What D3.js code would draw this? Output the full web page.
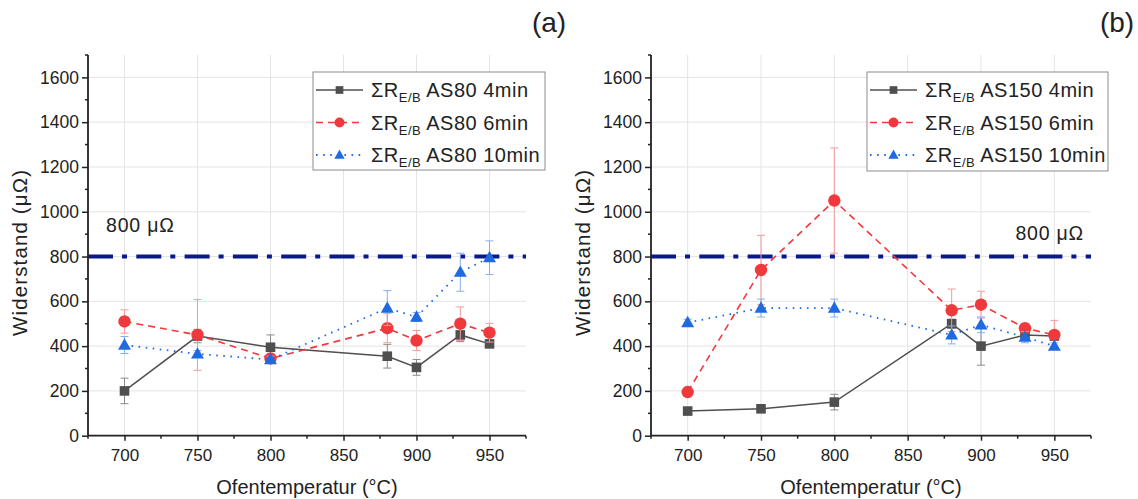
<!DOCTYPE html>
<html>
<head>
<meta charset="utf-8">
<script src="https://cdn.jsdelivr.net/npm/d3@7/dist/d3.min.js"></script>
<style>
  html, body { margin: 0; padding: 0; background: #fff; }
  svg { display: block; font-family: "Liberation Sans", Arial, sans-serif; }
</style>
</head>
<body>
<svg id="chart" width="1138" height="499"></svg>
<script>
// Furnace temperatures (°C)
const temps = [700, 750, 800, 880, 900, 930, 950];

// Panel (a): AS80 – summed resistance R_E/B (µΩ) and error bars
const as80_4 = [200, 445, 395, 355, 305, 450, 410];
const as80_4Err = [57, 30, 55, 53, 35, 30, 12];
const as80_6 = [510, 450, 345, 480, 425, 500, 460];
const as80_6Err = [52, 158, 15, 65, 45, 75, 42];
const as80_10 = [405, 365, 340, 570, 530, 730, 795];
const as80_10Err = [38, 15, 15, 78, 20, 85, 75];

// Panel (b): AS150
const as150_4 = [110, 120, 150, 500, 400, 450, 445];
const as150_4Err = [10, 12, 35, 20, 85, 20, 15];
const as150_6 = [195, 740, 1050, 560, 585, 480, 450];
const as150_6Err = [15, 155, 235, 95, 60, 20, 65];
const as150_10 = [505, 570, 570, 450, 495, 440, 400];
const as150_10Err = [15, 40, 40, 40, 35, 25, 15];

// Axis ticks and limits
const xTicks = [700, 750, 800, 850, 900, 950];
const xMinorTicks = [675, 725, 775, 825, 875, 925, 975];
const yTicks = [0, 200, 400, 600, 800, 1000, 1200, 1400, 1600];
const yMinorTicks = [100, 300, 500, 700, 900, 1100, 1300, 1500, 1700];
const xDomain = [675, 975];
const yDomain = [0, 1700];
const limitValue = 800;
const limitLabel = "800 \u03BC\u03A9";

const seriesStyle = [
  { color: "#4f4f4f", err: "#8a8a8a", dash: null, marker: "square", width: 1.5 },
  { color: "#f0393c", err: "#f39a9a", dash: "7,5", marker: "circle", width: 1.6 },
  { color: "#1f6ae0", err: "#86aef0", dash: "1.6,5.5", marker: "triangle", width: 1.8 }
];

const svg = d3.select("#chart");

function drawPanel(cfg) {
  const g = svg.append("g");
  const x = d3.scaleLinear().domain(xDomain).range([cfg.left, cfg.right]);
  const y = d3.scaleLinear().domain(yDomain).range([cfg.bottom, cfg.top]);

  // grid
  g.append("g").selectAll("line").data(xTicks).join("line")
    .attr("x1", d => x(d)).attr("x2", d => x(d))
    .attr("y1", cfg.top).attr("y2", cfg.bottom)
    .attr("stroke", "#e4e4e4").attr("stroke-width", 1);
  g.append("g").selectAll("line").data(yTicks.filter(d => d > 0)).join("line")
    .attr("x1", cfg.left).attr("x2", cfg.right)
    .attr("y1", d => y(d)).attr("y2", d => y(d))
    .attr("stroke", "#e4e4e4").attr("stroke-width", 1);

  // 800 µΩ limit line
  g.append("line")
    .attr("x1", cfg.left).attr("x2", cfg.right)
    .attr("y1", y(limitValue)).attr("y2", y(limitValue))
    .attr("stroke", "#0a1a8c").attr("stroke-width", 4)
    .attr("stroke-dasharray", "25,9,5,9.3");
  g.append("text")
    .attr("x", cfg.limitX).attr("y", cfg.limitY)
    .attr("text-anchor", cfg.limitAnchor)
    .attr("font-size", 19.5).attr("letter-spacing", 0.8).attr("fill", "#222")
    .text(limitLabel);

  // series
  cfg.series.forEach((s, i) => {
    const st = seriesStyle[i];
    const pts = temps.map((t, k) => ({ t, v: s.values[k], e: s.errors[k] }));
    // error bars
    const eb = g.append("g").attr("stroke", st.err).attr("stroke-width", 1);
    pts.forEach(p => {
      eb.append("line").attr("x1", x(p.t)).attr("x2", x(p.t))
        .attr("y1", y(p.v - p.e)).attr("y2", y(p.v + p.e));
      [p.v - p.e, p.v + p.e].forEach(v => {
        eb.append("line").attr("x1", x(p.t) - 4).attr("x2", x(p.t) + 4)
          .attr("y1", y(v)).attr("y2", y(v));
      });
    });
    // line
    g.append("path").datum(pts)
      .attr("fill", "none").attr("stroke", st.color).attr("stroke-width", st.width)
      .attr("stroke-dasharray", st.dash)
      .attr("d", d3.line().x(p => x(p.t)).y(p => y(p.v)));
    // markers
    g.append("g").selectAll("path").data(pts).join("path")
      .attr("transform", p => `translate(${x(p.t)},${y(p.v)})`)
      .attr("d", markerPath(st.marker))
      .attr("fill", st.color);
  });

  // axes
  const xAxis = d3.axisBottom(x).tickValues(xTicks).tickSize(5).tickPadding(8)
    .tickFormat(d3.format("d"));
  const gx = g.append("g").attr("transform", `translate(0,${cfg.bottom})`).call(xAxis);
  gx.append("g").selectAll("line").data(xMinorTicks).join("line")
    .attr("x1", d => x(d)).attr("x2", d => x(d)).attr("y1", 0).attr("y2", 3)
    .attr("stroke", "#222").attr("stroke-width", 1.5);

  const yAxis = d3.axisLeft(y).tickValues(yTicks).tickSize(6).tickPadding(3)
    .tickFormat(d3.format("d"));
  const gy = g.append("g").attr("transform", `translate(${cfg.left},0)`).call(yAxis);
  gy.append("g").selectAll("line").data(yMinorTicks).join("line")
    .attr("x1", 0).attr("x2", -3).attr("y1", d => y(d)).attr("y2", d => y(d))
    .attr("stroke", "#222").attr("stroke-width", 1.5);

  [gx, gy].forEach(a => {
    a.select(".domain").attr("stroke", "#222").attr("stroke-width", 1.8);
    a.selectAll(".tick line").attr("stroke", "#222").attr("stroke-width", 1.5);
    a.selectAll(".tick text").attr("fill", "#222")
      .attr("font-family", "Liberation Sans, Arial, sans-serif");
  });
  gx.selectAll(".tick text").attr("font-size", 17);
  gy.selectAll(".tick text").attr("font-size", 17.5);
  // plain axis lines without end caps
  gx.select(".domain").attr("d", `M${cfg.left},0H${cfg.right}`);
  gy.select(".domain").attr("d", `M0,${cfg.bottom}V${cfg.top}`);

  // axis titles
  g.append("text")
    .attr("x", (cfg.left + cfg.right) / 2).attr("y", 494)
    .attr("text-anchor", "middle").attr("font-size", 20).attr("fill", "#222")
    .text("Ofentemperatur (°C)");
  g.append("text")
    .attr("transform", `translate(${cfg.left - 61},253) rotate(-90)`)
    .attr("text-anchor", "middle").attr("font-size", 20.5).attr("fill", "#222")
    .attr("textLength", 166)
    .text("Widerstand (\u03BC\u03A9)");

  // panel tag
  g.append("text")
    .attr("x", cfg.tagX).attr("y", 32)
    .attr("text-anchor", "middle").attr("font-size", 28).attr("fill", "#222")
    .text(cfg.tag);

  // legend
  const lg = g.append("g");
  lg.append("rect")
    .attr("x", cfg.legend.x).attr("y", cfg.legend.y)
    .attr("width", cfg.legend.w).attr("height", cfg.legend.h)
    .attr("fill", "#fff").attr("stroke", "#8c8c8c").attr("stroke-width", 1);
  cfg.series.forEach((s, i) => {
    const st = seriesStyle[i];
    const cy = cfg.legend.y + 18 + i * 32.5;
    const lx0 = cfg.legend.x + 3, lx1 = cfg.legend.x + 50;
    lg.append("line").attr("x1", lx0).attr("x2", lx1).attr("y1", cy).attr("y2", cy)
      .attr("stroke", st.color).attr("stroke-width", st.width)
      .attr("stroke-dasharray", st.dash);
    lg.append("path").attr("transform", `translate(${(lx0 + lx1) / 2},${cy})`)
      .attr("d", markerPath(st.marker, 0.8)).attr("fill", st.color);
    const t = lg.append("text")
      .attr("x", cfg.legend.x + 58).attr("y", cy + 7)
      .attr("font-size", 20).attr("letter-spacing", 0.5).attr("fill", "#222");
    t.append("tspan").text("\u03A3R");
    t.append("tspan").attr("font-size", 13).attr("dy", 5).text("E/B");
    t.append("tspan").attr("dy", -5).text(" " + s.label);
  });
}

function markerPath(type, k = 1) {
  if (type === "square") {
    const h = 4.8 * k;
    return `M${-h},${-h}H${h}V${h}H${-h}Z`;
  }
  if (type === "circle") {
    const r = 6.2 * k;
    return `M${r},0A${r},${r} 0 1,1 ${-r},0A${r},${r} 0 1,1 ${r},0Z`;
  }
  const s = 6.8 * k;
  return `M0,${-s}L${s * 0.95},${s * 0.68}L${-s * 0.95},${s * 0.68}Z`;
}

drawPanel({
  left: 88, right: 526, top: 55, bottom: 435.7,
  tag: "(a)", tagX: 549,
  limitX: 106, limitY: 232, limitAnchor: "start",
  legend: { x: 313, y: 72, w: 232, h: 98 },
  series: [
    { label: "AS80 4min", values: as80_4, errors: as80_4Err },
    { label: "AS80 6min", values: as80_6, errors: as80_6Err },
    { label: "AS80 10min", values: as80_10, errors: as80_10Err }
  ]
});

drawPanel({
  left: 651, right: 1091, top: 55, bottom: 435.7,
  tag: "(b)", tagX: 1117,
  limitX: 1084, limitY: 240, limitAnchor: "end",
  legend: { x: 867, y: 72, w: 241, h: 99 },
  series: [
    { label: "AS150 4min", values: as150_4, errors: as150_4Err },
    { label: "AS150 6min", values: as150_6, errors: as150_6Err },
    { label: "AS150 10min", values: as150_10, errors: as150_10Err }
  ]
});
</script>
</body>
</html>
